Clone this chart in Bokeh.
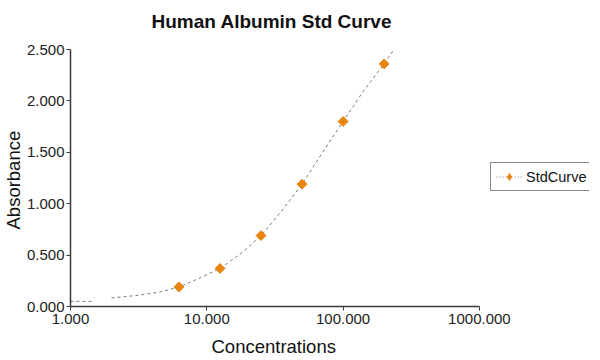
import math
from bokeh.plotting import figure
from bokeh.models import (ColumnDataSource, FixedTicker, NumeralTickFormatter,
                          Legend, LegendItem, Range1d, Title, Label)
from bokeh.embed import file_html
from bokeh.resources import INLINE

# ---- data ----
conc = [6.25, 12.5, 25, 50, 100, 200]
absorbance = [0.19, 0.37, 0.69, 1.19, 1.80, 2.36]

fit_conc = [1.0, 1.43, float("nan"), 2.0, 3.0, 4.5, 6.25, 9, 12.5, 18, 25, 35,
            50, 70, 100, 140, 200, 238]
fit_abs = [0.05, 0.05, float("nan"), 0.084, 0.106, 0.14, 0.19, 0.28, 0.37, 0.52,
           0.69, 0.92, 1.19, 1.49, 1.80, 2.09, 2.36, 2.51]

x_ticks = [1, 10, 100, 1000]
y_ticks = [0.0, 0.5, 1.0, 1.5, 2.0, 2.5]

title_text = "Human Albumin Std Curve"
x_label = "Concentrations"
y_label = "Absorbance"
series_name = "StdCurve"

FONT = "Liberation Sans"
ORANGE = "#E8850F"
AXIS = "#3a3a3a"

# The frame is larger than the axes (axes are bounded) so that the title
# and the legend can sit inside it without being clipped.
FW, FH = 519, 299
PX_PER_DECADE = 136.3
PX_PER_UNIT = 257 / 2.5
X_END = 10 ** (FW / PX_PER_DECADE)
Y_END = FH / PX_PER_UNIT

p = figure(frame_width=FW, frame_height=FH, x_axis_type="log",
           x_range=Range1d(1, X_END), y_range=Range1d(0, Y_END),
           output_backend="svg", toolbar_location=None,
           min_border_left=10, min_border_right=2,
           min_border_top=7, min_border_bottom=4)

p.outline_line_color = None
p.xgrid.visible = False
p.ygrid.visible = False

for ax in (p.xaxis[0], p.yaxis[0]):
    ax.axis_line_color = AXIS
    ax.axis_line_width = 1.5
    ax.major_tick_line_color = AXIS
    ax.major_tick_out = 4
    ax.major_tick_in = 0
    ax.minor_tick_line_color = None
    ax.major_label_text_font = FONT
    ax.major_label_text_font_size = "15px"
    ax.major_label_text_color = "#222222"
    ax.formatter = NumeralTickFormatter(format="0.000")

p.xaxis[0].ticker = FixedTicker(ticks=x_ticks, minor_ticks=[])
p.xaxis[0].bounds = (x_ticks[0], x_ticks[-1])
p.yaxis[0].ticker = FixedTicker(ticks=y_ticks, minor_ticks=[])
p.yaxis[0].bounds = (y_ticks[0], y_ticks[-1])
p.xaxis[0].major_label_standoff = 3
p.yaxis[0].major_label_standoff = 2

# chart title inside the (extended) frame
title = Label(text=title_text, x=81, y=285, x_units="screen", y_units="screen",
              text_font=FONT, text_font_size="19px", text_font_style="bold",
              text_color="#111111", text_baseline="middle", text_align="left")
p.add_layout(title)

# axis titles, positioned along the bounded axes
xt = Title(text=x_label, align="left", offset=141, standoff=14,
           text_font=FONT, text_font_size="18.5px", text_font_style="normal",
           text_color="#111111")
p.add_layout(xt, "below")
yt = Title(text=y_label, align="left", offset=77, standoff=0,
           text_font=FONT, text_font_size="18.5px", text_font_style="normal",
           text_color="#111111")
p.add_layout(yt, "left")

fit_src = ColumnDataSource(dict(x=fit_conc, y=fit_abs))
pts_src = ColumnDataSource(dict(x=conc, y=absorbance))

line_r = p.line("x", "y", source=fit_src, line_color="#7a7a7a",
                line_width=1, line_dash="3 3")
pts_r = p.scatter("x", "y", source=pts_src, marker="square", size=7,
                  angle=math.pi / 4, fill_color=ORANGE, line_color=ORANGE)

# legend glyphs: dotted line + diamond
leg_line = p.line([1], [0], line_color="#7a7a7a", line_width=1,
                  line_dash="1 2", visible=False)
leg_pt = p.scatter([1], [0], marker="diamond", size=12,
                   fill_color=ORANGE, line_color=ORANGE, visible=False)
legend = Legend(items=[LegendItem(label=series_name, renderers=[leg_line, leg_pt])],
                location=(420, 115))
legend.label_text_font = FONT
legend.label_text_font_size = "14.5px"
legend.label_text_color = "#111111"
legend.border_line_color = "#111111"
legend.border_line_width = 1
legend.padding = 5
legend.margin = 0
legend.glyph_width = 26
legend.glyph_height = 17
legend.label_standoff = 4
legend.label_height = 17
legend.background_fill_alpha = 1
p.add_layout(legend, "center")

open("out.html", "w").write(file_html(p, INLINE))
